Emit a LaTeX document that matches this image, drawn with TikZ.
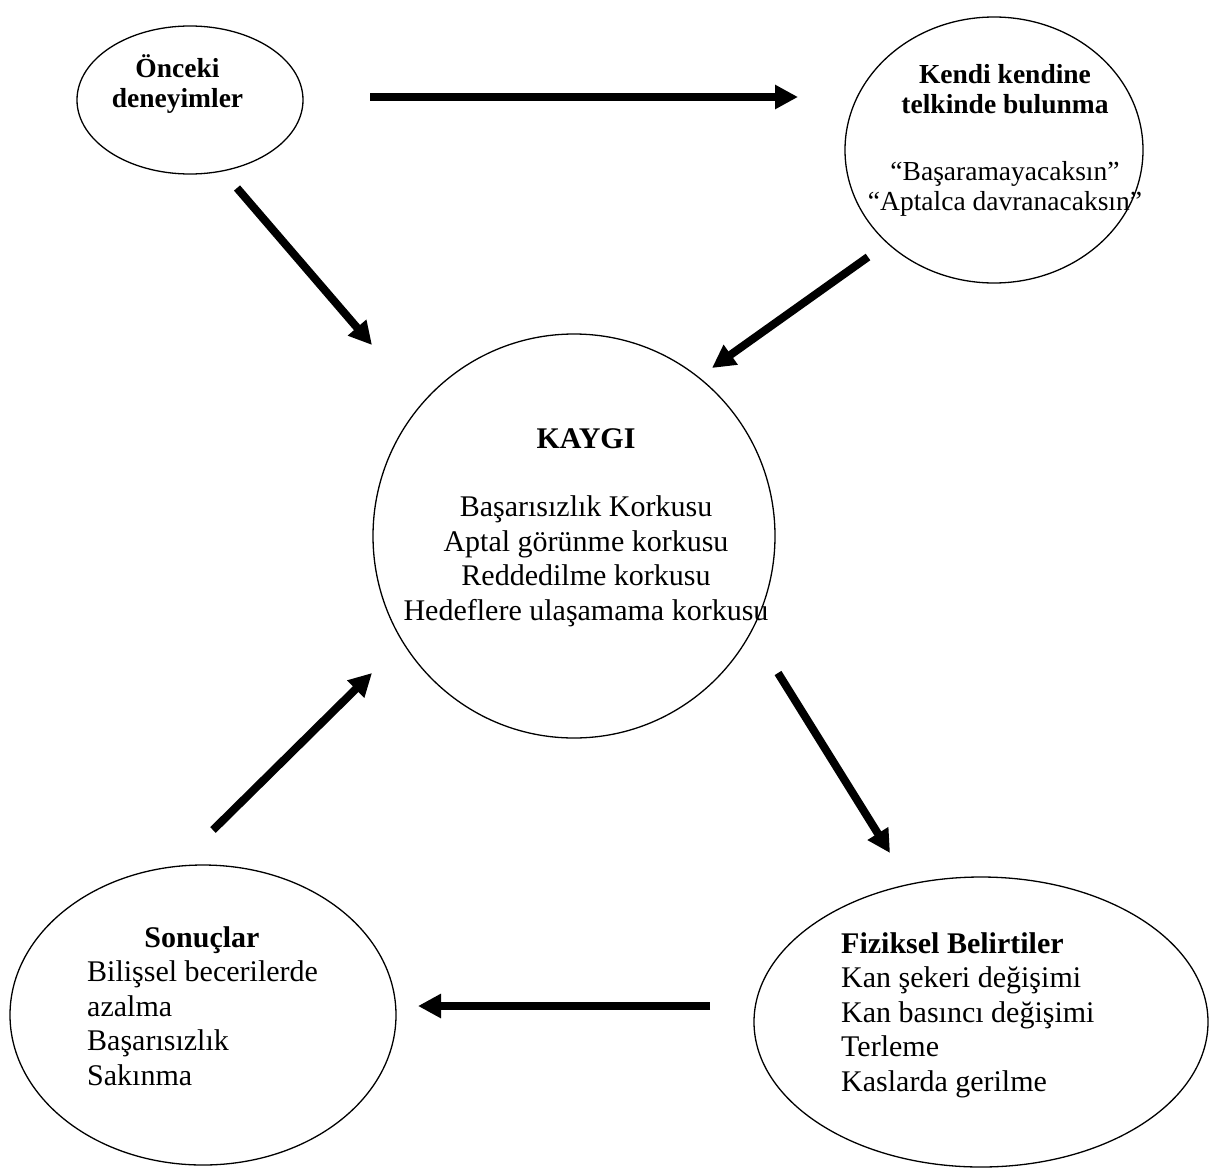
\documentclass[tikz,border=0pt]{standalone}
\usepackage{fontspec}
\setmainfont{Liberation Serif}
\usetikzlibrary{arrows.meta,shapes.geometric}
\begin{document}
\begin{tikzpicture}[x=1pt,y=-1pt,
  oval/.style={draw, ellipse, line width=1.3pt, inner sep=0pt},
  bigarrow/.style={line width=8pt, -{Triangle[length=23pt,width=23pt]}},
  ttl/.style={font=\fontsize{27.5}{30}\selectfont\bfseries, align=center, anchor=base, inner sep=0pt},
  smalltxt/.style={font=\fontsize{27.5}{30}\selectfont, align=center, anchor=base, inner sep=0pt},
  body/.style={font=\fontsize{30}{34.5}\selectfont, inner sep=0pt}]
\useasboundingbox (0,0) rectangle (1209,1167);

% ellipses
\node[oval, minimum width=226pt, minimum height=148pt] (onceki) at (190,100) {};
\node[oval, minimum width=298pt, minimum height=266pt] (kendi) at (994,150) {};
\node[oval, minimum width=402pt, minimum height=404pt] (kaygi) at (574,536) {};
\node[oval, minimum width=386pt, minimum height=300pt] (sonuc) at (203,1015) {};
\node[oval, minimum width=454pt, minimum height=290pt] (fizik) at (981,1022) {};

% texts (multi-line nodes: base anchor = baseline of the last line)
\node[ttl] (oncekit) at (177.5,107) {Önceki\\deneyimler};
\node[smalltxt] (kendit) at (1005,210) {\textbf{Kendi kendine}\\\textbf{telkinde bulunma}\\[37pt]“Başaramayacaksın”\\“Aptalca davranacaksın”};
\node[body, align=center, anchor=base] (kaygit) at (586,620) {\textbf{KAYGI}\\[34pt]Başarısızlık Korkusu\\Aptal görünme korkusu\\Reddedilme korkusu\\Hedeflere ulaşamama korkusu};
\node[body, font=\fontsize{30}{34.5}\selectfont\bfseries, anchor=base] (sonuct) at (202,947) {Sonuçlar};
\node[body, align=left, anchor=base west] (sonucb) at (87,1085) {Bilişsel becerilerde\\azalma\\Başarısızlık\\Sakınma};
\node[body, align=left, anchor=base west] (fizikt) at (841,1091) {\textbf{Fiziksel Belirtiler}\\Kan şekeri değişimi\\Kan basıncı değişimi\\Terleme\\Kaslarda gerilme};

% arrow end points
\coordinate (a1s) at (370,97);   \coordinate (a1e) at (798,97);
\coordinate (a2s) at (237,188);  \coordinate (a2e) at (372,345);
\coordinate (a3s) at (868,257);  \coordinate (a3e) at (712,368);
\coordinate (a4s) at (778,673);  \coordinate (a4e) at (890,853);
\coordinate (a5s) at (710,1006); \coordinate (a5e) at (418,1006);
\coordinate (a6s) at (213,830);  \coordinate (a6e) at (372,673);

\draw[bigarrow] (a1s) -- (a1e);
\draw[bigarrow] (a2s) -- (a2e);
\draw[bigarrow] (a3s) -- (a3e);
\draw[bigarrow] (a4s) -- (a4e);
\draw[bigarrow] (a5s) -- (a5e);
\draw[bigarrow] (a6s) -- (a6e);
\end{tikzpicture}
\end{document}
